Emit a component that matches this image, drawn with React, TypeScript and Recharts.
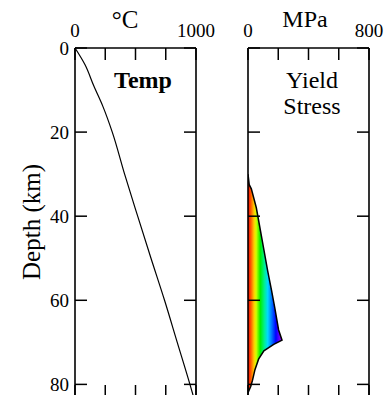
import React from "react";
import { ComposedChart, Line, Area, XAxis, YAxis } from "recharts";

// depth axis (km), shared by both panels
const depthTicks = [0, 20, 40, 60, 80];
const depthMax = 83;

// temperature panel
const tempTicks = [0, 250, 500, 750, 1000];
const tempTickLabels = [0, 1000];
const tempDepth = [0, 4, 9, 14, 20, 30, 40, 50, 60, 70, 80, 83];
const tempValues = [0, 83, 155, 232, 308, 410, 518, 628, 740, 845, 950, 980];

// yield stress panel
const stressTicks = [0, 200, 400, 600, 800];
const stressTickLabels = [0, 800];
const stressDepth = [30, 32.5, 33.5, 38, 45, 53, 57.5, 62, 67, 69.5, 70.5, 72, 74, 76.5, 79, 80.5, 82];
const stressValues = [0, 8, 22, 55, 90, 130, 155, 178, 202, 225, 170, 105, 70, 46, 30, 18, 0];

const tempData = tempDepth.map((d, i) => ({ depth: d, temp: tempValues[i] }));
const stressData = stressDepth.map((d, i) => ({ depth: d, stress: stressValues[i] }));

const FONT = "'Liberation Serif', 'Times New Roman', serif";
const TICK = 12;
const axisLine = { stroke: "#000", strokeWidth: 1.6 };

const TopTick = ({ x, y, payload, labels }: any) => (
  <g>
    <line x1={x} y1={y} x2={x} y2={y + TICK} stroke="#000" strokeWidth={1.5} />
    {labels.includes(payload.value) && (
      <text x={x} y={y - 11} textAnchor="middle" fontSize={19} fontFamily={FONT} fill="#000">
        {payload.value}
      </text>
    )}
  </g>
);

const BottomTick = ({ x, y }: any) => (
  <line x1={x} y1={y} x2={x} y2={y - TICK} stroke="#000" strokeWidth={1.5} />
);

const LeftTick = ({ x, y, payload, showLabel }: any) => (
  <g>
    <line x1={x} y1={y} x2={x + TICK} y2={y} stroke="#000" strokeWidth={1.5} />
    {showLabel && (
      <text x={x - 6} y={y} dy="0.35em" textAnchor="end" fontSize={19} fontFamily={FONT} fill="#000">
        {payload.value}
      </text>
    )}
  </g>
);

const RightTick = ({ x, y }: any) => (
  <line x1={x} y1={y} x2={x - TICK} y2={y} stroke="#000" strokeWidth={1.5} />
);

// in a vertical layout the depth axis already runs top-down
const depthAxes = (showLabel: boolean) => [
  <YAxis
    key="l"
    yAxisId="l"
    orientation="left"
    type="number"
    dataKey="depth"
    domain={[0, depthMax]}
    allowDataOverflow
    ticks={depthTicks}
    interval={0}
    width={1}
    tickSize={0}
    tickMargin={0}
    axisLine={axisLine}
    tickLine={false}
    tick={(p: any) => <LeftTick {...p} showLabel={showLabel} />}
  />,
  <YAxis
    key="r"
    yAxisId="r"
    orientation="right"
    type="number"
    dataKey="depth"
    domain={[0, depthMax]}
    allowDataOverflow
    ticks={depthTicks}
    interval={0}
    width={1}
    tickSize={0}
    tickMargin={0}
    axisLine={axisLine}
    tickLine={false}
    tick={(p: any) => <RightTick {...p} />}
  />,
];

const valueAxes = (max: number, ticks: number[], labels: number[]) => [
  <XAxis
    key="t"
    xAxisId="t"
    orientation="top"
    type="number"
    domain={[0, max]}
    allowDataOverflow
    ticks={ticks}
    interval={0}
    height={1}
    tickSize={0}
    tickMargin={0}
    axisLine={axisLine}
    tickLine={false}
    tick={(p: any) => <TopTick {...p} labels={labels} />}
  />,
  <XAxis
    key="b"
    xAxisId="b"
    orientation="bottom"
    type="number"
    domain={[0, max]}
    allowDataOverflow
    ticks={ticks}
    interval={0}
    height={1}
    tickSize={0}
    tickMargin={0}
    axisLine={axisLine}
    tickLine={false}
    tick={(p: any) => <BottomTick {...p} />}
  />,
];

export default function App() {
  return (
    <div
      style={{
        position: "absolute",
        left: 0,
        top: 0,
        width: 387,
        height: 395,
        overflow: "hidden",
        background: "#fff",
        display: "flex",
        fontFamily: FONT,
      }}
    >
      <ComposedChart
        layout="vertical"
        width={215}
        height={400}
        data={tempData}
        margin={{ top: 47, left: 74, right: 18, bottom: 2 }}
      >
        {valueAxes(1000, tempTicks, tempTickLabels)}
        {depthAxes(true)}
        <Line
          xAxisId="t"
          yAxisId="l"
          dataKey="temp"
          type="monotone"
          stroke="#000"
          strokeWidth={1.2}
          dot={false}
          isAnimationActive={false}
        />
        <text x={125} y={28} textAnchor="middle" fontSize={25} fontFamily={FONT} fill="#000">
          °C
        </text>
        <text x={143} y={88} textAnchor="middle" fontSize={24} fontWeight="bold" fontFamily={FONT} fill="#000">
          Temp
        </text>
        <text
          transform="translate(31,222) rotate(-90)"
          textAnchor="middle"
          dominantBaseline="central"
          fontSize={25}
          fontFamily={FONT}
          fill="#000"
        >
          Depth (km)
        </text>
      </ComposedChart>
      <ComposedChart
        layout="vertical"
        width={172}
        height={400}
        data={stressData}
        margin={{ top: 47, left: 32, right: 17, bottom: 2 }}
      >
        <defs>
          <linearGradient id="rainbow" x1="0" y1="0" x2="1" y2="0">
            <stop offset="0%" stopColor="#ff0000" />
            <stop offset="9%" stopColor="#ff6000" />
            <stop offset="18%" stopColor="#ffd000" />
            <stop offset="24%" stopColor="#d0ff00" />
            <stop offset="36%" stopColor="#00f000" />
            <stop offset="48%" stopColor="#00f090" />
            <stop offset="58%" stopColor="#00d8ff" />
            <stop offset="70%" stopColor="#0070ff" />
            <stop offset="82%" stopColor="#0000ff" />
            <stop offset="100%" stopColor="#b000ff" />
          </linearGradient>
        </defs>
        {valueAxes(800, stressTicks, stressTickLabels)}
        {depthAxes(false)}
        <Area
          xAxisId="t"
          yAxisId="l"
          dataKey="stress"
          type="linear"
          stroke="#000"
          strokeWidth={1.5}
          fill="url(#rainbow)"
          fillOpacity={1}
          dot={false}
          activeDot={false}
          isAnimationActive={false}
        />
        <text x={90} y={27} textAnchor="middle" fontSize={24} fontFamily={FONT} fill="#000">
          MPa
        </text>
        <text x={97} y={88} textAnchor="middle" fontSize={24} fontFamily={FONT} fill="#000">
          Yield
        </text>
        <text x={97} y={114} textAnchor="middle" fontSize={24} fontFamily={FONT} fill="#000">
          Stress
        </text>
      </ComposedChart>
    </div>
  );
}
